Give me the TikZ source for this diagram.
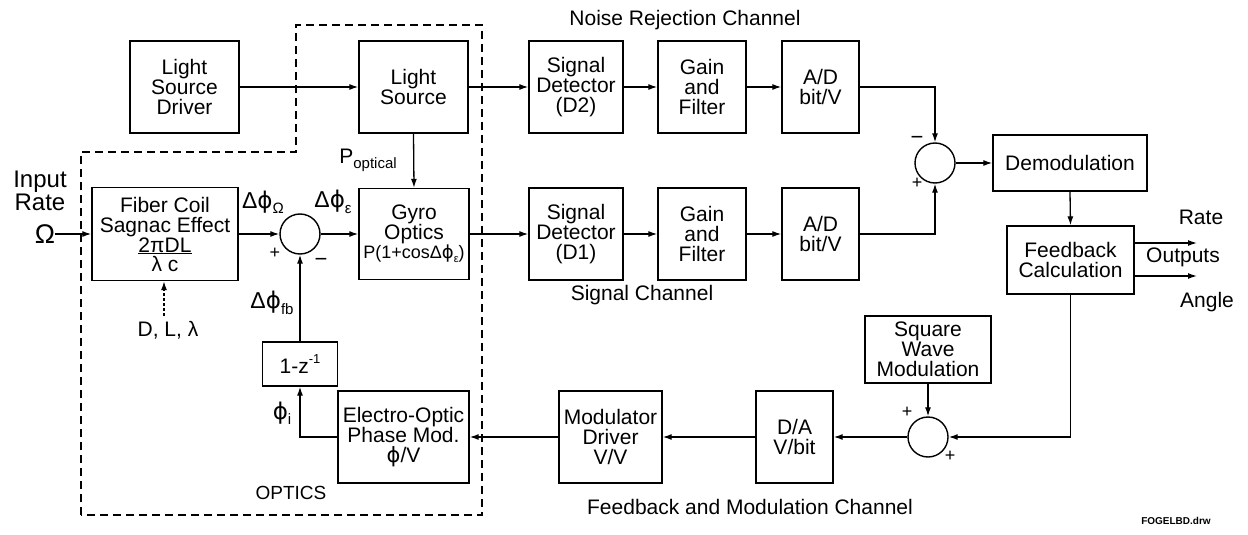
\documentclass[tikz,border=0pt]{standalone}
\usepackage{fontspec}
\setmainfont{Liberation Sans}
\newfontfamily\dvs{DejaVu Sans}
\usetikzlibrary{arrows.meta}
\newcommand\sbs[1]{\raisebox{-0.45ex}{\fontsize{15}{15}\selectfont #1}}
\newcommand\sps[1]{\raisebox{0.9ex}{\fontsize{13}{13}\selectfont #1}}
\newcommand\phs{{\dvs ϕ}}
\tikzset{
  blk/.style={draw, line width=1.4pt, inner sep=0pt, align=center, font=\fontsize{21}{20}\selectfont},
  sumj/.style={draw, circle, line width=1.4pt, minimum size=40pt, inner sep=0pt},
  conn/.style={line width=1.3pt},
  arr/.style={line width=1.3pt, -{Latex[length=9pt,width=6pt]}},
  lbl/.style={inner sep=0pt, font=\fontsize{21}{20}\selectfont, align=center},
  sym/.style={inner sep=0pt, font=\fontsize{23}{23}\selectfont},
  sgn/.style={inner sep=0pt, font=\fontsize{18}{18}\selectfont},
  bound/.style={line width=1.3pt, dash pattern=on 8pt off 5pt}
}
\begin{document}
\begin{tikzpicture}[x=1pt,y=-1pt]
\useasboundingbox (0,0) rectangle (1248,535);
% optics boundary
\draw[bound] (81,515) -- (81,152) -- (296,152) -- (296,25) -- (482,25) -- (482,515) -- cycle;
% top row
\node[blk, minimum width=109pt, minimum height=92pt] (lsd) at (184.5,87) {Light\\Source\\Driver};
\node[blk, minimum width=109pt, minimum height=92pt] (ls) at (413.5,87) {Light\\Source};
\node[blk, minimum width=94pt, minimum height=92pt] (d2) at (576,87) {Signal\\Detector\\(D2)};
\node[blk, minimum width=88pt, minimum height=92pt] (gf2) at (702,87) {Gain\\and\\Filter};
\node[blk, minimum width=77pt, minimum height=92pt] (ad2) at (820.5,87) {A/D\\bit/V};
% second row
\node[blk, minimum width=146pt, minimum height=93pt] (fc) at (165,234) {Fiber Coil\\Sagnac Effect\\\underline{2πDL}\\[-1pt]λ c};
\node[sumj] (s1) at (300,234) {};
\node[blk, minimum width=110pt, minimum height=91pt] (go) at (414,234) {Gyro\\Optics\\[-1pt]{\fontsize{18}{18}\selectfont P(1+cosΔ\phs\sbs{\fontsize{11}{11}\selectfont ε})}};
\node[blk, minimum width=94pt, minimum height=92pt] (d1) at (576,234) {Signal\\Detector\\(D1)};
\node[blk, minimum width=88pt, minimum height=92pt] (gf1) at (702,234) {Gain\\and\\Filter};
\node[blk, minimum width=77pt, minimum height=92pt] (ad1) at (820.5,234) {A/D\\bit/V};
\node[sumj] (s2) at (935,163) {};
\node[blk, minimum width=154pt, minimum height=56pt] (dem) at (1070,163) {Demodulation};
\node[blk, minimum width=127pt, minimum height=68pt] (fbc) at (1070.5,260) {Feedback\\Calculation};
% bottom row
\node[blk, minimum width=126pt, minimum height=67pt] (swm) at (928,349.5) {Square\\Wave\\Modulation};
\node[sumj] (s3) at (928,437) {};
\node[blk, minimum width=77pt, minimum height=92pt] (da) at (794.5,437) {D/A\\V/bit};
\node[blk, minimum width=103pt, minimum height=92pt] (md) at (610.5,437) {Modulator\\Driver\\V/V};
\node[blk, minimum width=131pt, minimum height=92pt] (eo) at (403.5,437) {Electro-Optic\\Phase Mod.\\\phs/V};
\node[blk, minimum width=75pt, minimum height=44pt] (z) at (300,364) {1-z\sps{-1}};
% input
\node[lbl, font=\fontsize{24}{23}\selectfont] (inp) at (40,191) {Input\\Rate};
\node[sym, font=\fontsize{27}{27}\selectfont] (om) at (45,234) {Ω};
\node[lbl] (dll) at (168,330) {D, L, λ};
\coordinate (dlls) at (164,316);
% connectors
\draw[arr] (om.east) -- (fc.west);
\draw[arr] (lsd.east) -- (ls.west);
\draw[arr] (ls.east) -- (d2.west);
\draw[arr] (d2.east) -- (gf2.west);
\draw[arr] (gf2.east) -- (ad2.west);
\draw[arr] (ad2.east) -| (s2.north);
\draw[arr] (fc.east) -- (s1.west);
\draw[arr] (s1.east) -- (go.west);
\draw[arr] (ls.south) -- (go.north);
\draw[arr] (go.east) -- (d1.west);
\draw[arr] (d1.east) -- (gf1.west);
\draw[arr] (gf1.east) -- (ad1.west);
\draw[arr] (ad1.east) -| (s2.south);
\draw[arr] (s2.east) -- (dem.west);
\draw[arr] (dem.south) -- (fbc.north);
\coordinate (rateo) at (1197,243);
\coordinate (ango) at (1197,276);
\draw[arr] (fbc.east |- rateo) -- (rateo);
\draw[arr] (fbc.east |- ango) -- (ango);
\draw[arr] (fbc.south) |- (s3.east);
\draw[arr] (swm.south) -- (s3.north);
\draw[arr] (s3.west) -- (da.east);
\draw[arr] (da.west) -- (md.east);
\draw[arr] (md.west) -- (eo.east);
\draw[arr] (eo.west) -| (z.south);
\draw[arr] (z.north) -- (s1.south);
\draw[arr, dash pattern=on 3pt off 2pt] (dlls) -- (dlls |- fc.south);
% labels
\node[sym] (lo) at (263,202) {Δ\phs\sbs{Ω}};
\node[sym] (le) at (333,202) {Δ\phs\sbs{ε}};
\node[sym, font=\fontsize{21}{21}\selectfont] (lp) at (368,160) {P\sbs{optical}};
\node[sym] (lf) at (272,303) {Δ\phs\sbs{fb}};
\node[sym] (li) at (282,413) {\phs\sbs{i}};
\node[sgn] (p1) at (275,253) {+};
\node[sgn, font=\fontsize{22}{22}\selectfont] (m1) at (321,262) {−};
\node[sgn, font=\fontsize{22}{22}\selectfont] (m2) at (917,140) {−};
\node[sgn] (p2) at (917,183) {+};
\node[sgn] (p3) at (907,412) {+};
\node[sgn] (p4) at (950,456) {+};
\node[lbl, font=\fontsize{19}{19}\selectfont] (opt) at (291,493) {OPTICS};
\node[lbl] (nrc) at (685,20) {Noise Rejection Channel};
\node[lbl] (sc) at (642,295) {Signal Channel};
\node[lbl] (fmc) at (750,507) {Feedback and Modulation Channel};
\node[lbl] (rt) at (1201,217) {Rate};
\node[lbl] (ou) at (1183,257) {Outputs};
\node[lbl] (an) at (1207,302) {Angle};
\node[lbl, font=\fontsize{10}{10}\selectfont\bfseries] (fn) at (1176,521) {FOGELBD.drw};
\end{tikzpicture}
\end{document}
